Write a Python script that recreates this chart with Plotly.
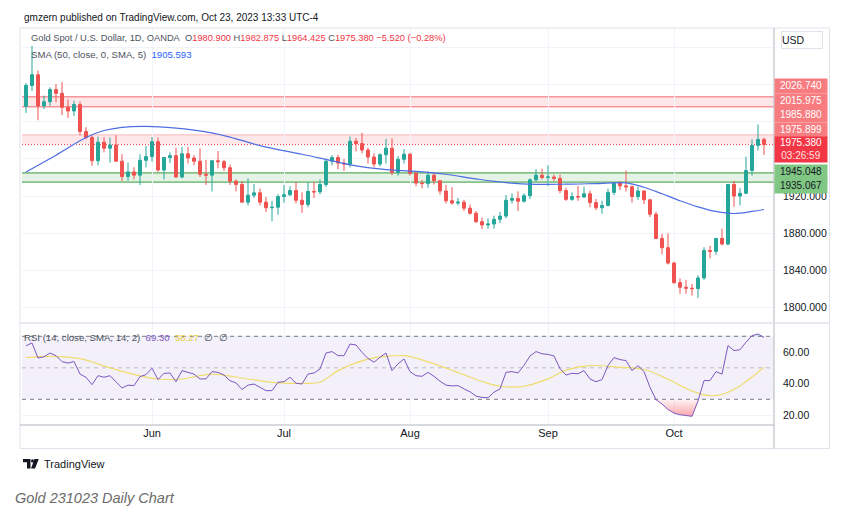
import plotly.graph_objects as go

# ---------------- data ----------------
opens = [2016.5, 2039.0, 2050.5, 2017.0, 2021.5, 2034.5, 2030.5, 2015.5, 2011.5, 2018.5,
         1989.5, 1983.0, 1958.0, 1978.0, 1971.5, 1975.0, 1957.5, 1941.0, 1946.0, 1942.5,
         1958.5, 1962.5, 1978.5, 1948.0, 1961.5, 1963.5, 1940.5, 1965.5, 1961.0, 1957.5,
         1943.5, 1942.5, 1958.0, 1957.0, 1950.5, 1936.0, 1932.5, 1913.5, 1921.0, 1923.5,
         1913.5, 1907.5, 1908.0, 1919.5, 1921.5, 1926.0, 1915.5, 1911.0, 1925.0, 1924.5,
         1932.5, 1957.5, 1961.5, 1955.5, 1954.5, 1979.0, 1976.5, 1969.5, 1962.0, 1954.5,
         1964.5, 1971.5, 1945.5, 1959.5, 1965.0, 1944.5, 1934.0, 1933.5, 1942.5, 1936.5,
         1925.5, 1915.0, 1912.5, 1913.5, 1907.0, 1901.5, 1892.5, 1889.0, 1890.0, 1895.0,
         1898.5, 1915.5, 1917.5, 1914.5, 1920.5, 1937.5, 1942.5, 1940.0, 1940.5, 1939.0,
         1926.0, 1916.5, 1919.5, 1919.0, 1922.5, 1913.0, 1907.5, 1910.0, 1924.0, 1934.0,
         1931.0, 1930.0, 1919.5, 1925.5, 1916.0, 1900.5, 1874.5, 1864.5, 1848.0, 1827.0,
         1822.0, 1821.0, 1820.5, 1832.0, 1861.5, 1860.5, 1874.5, 1868.5, 1932.5, 1920.0,
         1923.0, 1947.5, 1974.5, 1980.9]
highs = [2041.5, 2081.5, 2055.0, 2028.0, 2037.0, 2040.5, 2042.5, 2024.0, 2022.5, 2021.5,
         1994.0, 1985.0, 1984.0, 1983.5, 1983.0, 1985.5, 1965.0, 1956.0, 1951.0, 1965.0,
         1974.0, 1983.5, 1983.0, 1962.0, 1967.0, 1972.0, 1973.0, 1973.0, 1964.0, 1971.5,
         1959.0, 1958.5, 1968.5, 1959.0, 1954.0, 1938.0, 1936.0, 1939.0, 1933.0, 1928.0,
         1919.0, 1915.0, 1922.0, 1932.0, 1930.5, 1935.0, 1924.0, 1935.0, 1935.0, 1938.0,
         1959.5, 1964.0, 1964.5, 1960.0, 1984.0, 1982.5, 1988.0, 1972.0, 1966.0, 1966.0,
         1981.5, 1982.0, 1963.0, 1970.5, 1966.5, 1946.5, 1937.5, 1946.5, 1944.5, 1937.5,
         1932.0, 1929.5, 1918.0, 1916.0, 1911.0, 1904.0, 1897.0, 1896.0, 1899.0, 1903.0,
         1921.0, 1923.0, 1925.0, 1923.0, 1939.0, 1949.0, 1949.5, 1953.0, 1943.0, 1943.0,
         1929.0, 1924.0, 1931.0, 1930.0, 1926.0, 1917.0, 1915.0, 1928.0, 1935.0, 1936.0,
         1947.5, 1931.5, 1930.0, 1926.0, 1917.0, 1903.0, 1879.5, 1880.0, 1849.5, 1831.5,
         1830.0, 1825.5, 1835.0, 1865.0, 1866.5, 1875.0, 1885.0, 1933.0, 1936.5, 1928.5,
         1962.5, 1981.0, 1997.0, 1982.875]
lows = [2009.5, 2033.0, 2001.5, 2013.5, 2017.0, 2021.0, 2007.0, 2004.0, 2006.0, 1985.5,
        1981.0, 1952.5, 1953.0, 1967.0, 1956.0, 1957.0, 1936.0, 1936.5, 1938.0, 1932.0,
        1951.0, 1957.0, 1946.0, 1938.0, 1955.5, 1940.0, 1939.0, 1955.0, 1953.0, 1940.5,
        1932.0, 1925.0, 1950.0, 1947.0, 1932.0, 1925.0, 1913.0, 1910.0, 1918.0, 1910.0,
        1903.0, 1893.0, 1900.0, 1913.0, 1920.0, 1912.0, 1902.0, 1908.0, 1918.0, 1922.0,
        1930.0, 1953.0, 1949.0, 1947.0, 1951.0, 1968.0, 1966.0, 1955.0, 1951.0, 1952.0,
        1955.0, 1942.5, 1942.0, 1955.0, 1942.0, 1930.5, 1928.5, 1929.0, 1932.5, 1921.5,
        1912.0, 1911.0, 1910.0, 1904.0, 1900.0, 1891.0, 1884.5, 1885.0, 1885.0, 1891.0,
        1896.0, 1912.0, 1904.0, 1913.0, 1917.0, 1936.0, 1938.0, 1931.0, 1936.0, 1923.0,
        1915.0, 1915.0, 1915.0, 1918.0, 1908.0, 1905.0, 1901.0, 1909.0, 1921.0, 1926.5,
        1925.0, 1913.0, 1916.0, 1911.5, 1897.5, 1873.5, 1857.5, 1846.5, 1825.5, 1815.0,
        1815.0, 1813.0, 1810.5, 1830.0, 1853.0, 1857.0, 1867.0, 1867.0, 1908.5, 1910.0,
        1922.0, 1942.0, 1969.0, 1964.425]
closes = [2039.0, 2050.5, 2017.0, 2021.5, 2034.5, 2030.5, 2015.5, 2011.5, 2018.5, 1989.5,
          1983.0, 1958.0, 1978.0, 1971.5, 1975.0, 1957.5, 1941.0, 1946.0, 1942.5, 1958.5,
          1962.5, 1978.5, 1948.0, 1961.5, 1963.5, 1940.5, 1965.5, 1961.0, 1957.5, 1943.5,
          1942.5, 1958.0, 1957.0, 1950.5, 1936.0, 1932.5, 1913.5, 1921.0, 1923.5, 1913.5,
          1907.5, 1908.0, 1919.5, 1921.5, 1926.0, 1915.5, 1911.0, 1925.0, 1924.5, 1932.5,
          1957.5, 1961.5, 1955.5, 1954.5, 1979.0, 1976.5, 1969.5, 1962.0, 1954.5, 1964.5,
          1971.5, 1945.5, 1959.5, 1965.0, 1944.5, 1934.0, 1933.5, 1942.5, 1936.5, 1925.5,
          1915.0, 1912.5, 1913.5, 1907.0, 1901.5, 1892.5, 1889.0, 1890.0, 1895.0, 1898.5,
          1915.5, 1917.5, 1914.5, 1920.5, 1937.5, 1942.5, 1940.0, 1940.5, 1939.0, 1926.0,
          1916.5, 1919.5, 1919.0, 1922.5, 1913.0, 1907.5, 1910.0, 1924.0, 1934.0, 1931.0,
          1930.0, 1919.5, 1925.5, 1916.0, 1900.5, 1874.5, 1864.5, 1848.0, 1827.0, 1822.0,
          1821.0, 1820.5, 1832.0, 1861.5, 1860.5, 1874.5, 1868.5, 1932.5, 1920.0, 1923.0,
          1947.5, 1974.5, 1980.9, 1975.38]
candle_idx = list(range(len(closes)))

# SMA(50) read at sample candles
sma_idx = [0, 5, 10, 13, 16, 20, 25, 30, 34, 38, 42, 46, 50, 55, 60, 65, 70, 75, 80, 85,
           90, 95, 100, 103, 106, 109, 112, 115, 118, 121, 123]
sma_val = [1946, 1964, 1983, 1990.5, 1994, 1995, 1993, 1989, 1983.5, 1976, 1970, 1965,
           1959.5, 1952.5, 1948.5, 1946.5, 1943.5, 1938.5, 1934.5, 1932.7, 1932.8, 1933.5,
           1934.3, 1929.5, 1922.5, 1915, 1908.5, 1903.5, 1901.3, 1903.5, 1905.593]

# RSI(14) per candle
rsi = [64.0, 65.8, 56.2, 57.0, 59.4, 57.7, 53.9, 53.0, 54.0, 46.0,
       44.0, 39.3, 45.0, 44.0, 45.0, 41.2, 37.2, 39.0, 38.7, 44.4,
       45.7, 49.7, 42.5, 46.5, 46.7, 41.2, 48.2, 47.1, 46.0, 42.9,
       43.0, 47.6, 47.1, 45.4, 41.8, 40.4, 36.2, 39.0, 39.7, 37.6,
       35.5, 35.5, 40.8, 41.2, 44.0, 40.2, 39.7, 46.0, 46.7, 49.2,
       59.4, 60.3, 57.7, 57.7, 65.1, 64.5, 59.8, 56.0, 53.5, 56.7,
       59.4, 48.2, 52.5, 55.6, 47.6, 45.0, 44.6, 47.1, 44.6, 41.5,
       39.0, 38.5, 38.7, 36.6, 34.8, 32.0, 31.2, 31.0, 34.5, 36.6,
       47.1, 47.6, 46.7, 51.5, 57.5, 60.3, 58.9, 58.5, 57.5, 49.5,
       45.4, 46.5, 46.2, 48.2, 42.9, 41.2, 42.5, 51.4, 56.5, 55.2,
       54.6, 48.2, 51.4, 47.6, 37.6, 29.8, 27.0, 23.5, 21.2, 20.2,
       19.8, 19.2, 29.0, 41.9, 41.9, 47.6, 46.0, 64.1, 60.9, 61.5,
       66.2, 70.4, 71.5, 69.30]

# RSI-based SMA, read at sample candles
rsima_idx = [0, 4, 9, 14, 18, 22, 26, 31, 37, 42, 46, 49, 52, 57, 60, 63, 67, 72, 76, 79,
             83, 87, 90, 94, 99, 103, 107, 111, 114, 116, 119, 123]
rsima_val = [56.5, 57.3, 55.8, 50.0, 45.8, 42.9, 42.9, 46.0, 42.9, 40.4, 40.2, 40.8, 48.2,
             55.5, 57.2, 57.7, 53.8, 47.0, 41.3, 38.3, 38.3, 43.0, 48.5, 51.4, 50.3, 48.9,
             42.7, 35.2, 32.3, 33.2, 38.5, 50.3]
rsima_label = "58.27"

# horizontal zones
red_zone_hi = [2026.740, 1985.880]
red_zone_lo = [2015.975, 1975.899]
green_zone_hi = 1945.048
green_zone_lo = 1935.067
countdown = "03:26:59"

month_ticks = [21, 43, 64, 87, 108]
month_labels = ["Jun", "Jul", "Aug", "Sep", "Oct"]
price_ticks = [1800, 1840, 1880, 1920, 1960, 2000, 2040, 2080]
# labels at 1960/2000/2040 are covered by the price tags on the scale, 2080 is not shown
price_tick_text = ["1800.000", "1840.000", "1880.000", "1920.000", "", "", "", ""]
rsi_ticks = [20, 40, 60]
rsi_tick_text = ["20.00", "40.00", "60.00"]

# ---------------- layout helpers ----------------
W, H = 861, 518
ML, MR, MT, MB = 22, 87, 28, 93
PW = W - ML - MR
PH = H - MT - MB


def fx(px):
    return (px - ML) / PW


def fy(py):
    return (H - MB - py) / PH


GREEN = "#26a69a"
RED = "#ef5350"
TXT = "#131722"
GRID = "#f0f3fa"
BORDER = "#e0e3eb"
FONT = "Liberation Sans"

fig = go.Figure()

fig.add_trace(go.Candlestick(
    x=candle_idx, open=opens, high=highs, low=lows, close=closes,
    increasing=dict(line=dict(color=GREEN, width=1), fillcolor=GREEN),
    decreasing=dict(line=dict(color=RED, width=1), fillcolor=RED),
    whiskerwidth=0, xaxis="x", yaxis="y", showlegend=False, hoverinfo="skip"))

fig.add_trace(go.Scatter(x=sma_idx, y=sma_val, mode="lines",
                         line=dict(color="#4f6ee3", width=1.2, shape="spline", smoothing=1.0),
                         xaxis="x", yaxis="y", showlegend=False, hoverinfo="skip"))

# oversold / overbought fills
rsi_lo = [min(v, 30) for v in rsi]
rsi_hi = [max(v, 70) for v in rsi]
fig.add_trace(go.Scatter(x=candle_idx, y=[30] * len(rsi), mode="lines", line=dict(width=0),
                         xaxis="x2", yaxis="y2", showlegend=False, hoverinfo="skip"))
fig.add_trace(go.Scatter(x=candle_idx, y=rsi_lo, mode="lines", line=dict(width=0),
                         fill="tonexty",
                         fillgradient=dict(type="vertical",
                                           colorscale=[[0, "rgba(242,54,69,0.45)"], [1, "rgba(242,54,69,0.05)"]]),
                         xaxis="x2", yaxis="y2", showlegend=False, hoverinfo="skip"))
fig.add_trace(go.Scatter(x=candle_idx, y=[70] * len(rsi), mode="lines", line=dict(width=0),
                         xaxis="x2", yaxis="y2", showlegend=False, hoverinfo="skip"))
fig.add_trace(go.Scatter(x=candle_idx, y=rsi_hi, mode="lines", line=dict(width=0),
                         fill="tonexty", fillcolor="rgba(38,166,154,0.25)",
                         xaxis="x2", yaxis="y2", showlegend=False, hoverinfo="skip"))

fig.add_trace(go.Scatter(x=rsima_idx, y=rsima_val, mode="lines",
                         line=dict(color="#f0dc6e", width=1.2, shape="spline", smoothing=1.0),
                         xaxis="x2", yaxis="y2", showlegend=False, hoverinfo="skip"))
fig.add_trace(go.Scatter(x=candle_idx, y=rsi, mode="lines",
                         line=dict(color="#7e57c2", width=1),
                         xaxis="x2", yaxis="y2", showlegend=False, hoverinfo="skip"))

shapes = []
# price zones
for hi, lo in zip(red_zone_hi, red_zone_lo):
    shapes.append(dict(type="rect", xref="paper", yref="y", x0=0, x1=1, y0=lo, y1=hi,
                       fillcolor="rgba(242,54,69,0.12)", line=dict(width=0), layer="below"))
shapes.append(dict(type="line", xref="paper", yref="y", x0=0, x1=1, y0=red_zone_hi[0], y1=red_zone_hi[0],
                   line=dict(color="rgba(242,54,69,0.75)", width=1), layer="below"))
shapes.append(dict(type="line", xref="paper", yref="y", x0=0, x1=1, y0=red_zone_lo[0], y1=red_zone_lo[0],
                   line=dict(color="rgba(242,54,69,0.75)", width=1), layer="below"))
shapes.append(dict(type="line", xref="paper", yref="y", x0=0, x1=1, y0=red_zone_hi[1], y1=red_zone_hi[1],
                   line=dict(color="rgba(242,54,69,0.3)", width=1), layer="below"))
shapes.append(dict(type="rect", xref="paper", yref="y", x0=0, x1=1, y0=green_zone_lo, y1=green_zone_hi,
                   fillcolor="rgba(76,175,80,0.15)", line=dict(width=0), layer="below"))
for lv in (green_zone_hi, green_zone_lo):
    shapes.append(dict(type="line", xref="paper", yref="y", x0=0, x1=1, y0=lv, y1=lv,
                       line=dict(color="rgba(67,160,71,0.85)", width=1.3), layer="below"))
# current price dotted line
shapes.append(dict(type="line", xref="paper", yref="y", x0=0, x1=1, y0=closes[-1], y1=closes[-1],
                   line=dict(color="#f23645", width=1, dash="1px,2px"), layer="below"))

# RSI band and levels
shapes.append(dict(type="rect", xref="paper", yref="y2", x0=0, x1=1, y0=30, y1=70,
                   fillcolor="rgba(126,87,194,0.09)", line=dict(width=0), layer="below"))
for lv, col in ((70, "#787b86"), (50, "#b8bbc4"), (30, "#787b86")):
    shapes.append(dict(type="line", xref="paper", yref="y2", x0=0, x1=1, y0=lv, y1=lv,
                       line=dict(color=col, width=1, dash="4px,4px"), layer="below"))

# frame
frame = dict(color=BORDER, width=1)
shapes += [
    dict(type="rect", xref="paper", yref="paper", x0=fx(20), x1=fx(829.5), y0=fy(448.5), y1=fy(28),
         line=frame),
    dict(type="line", xref="paper", yref="paper", x0=fx(774), x1=fx(774), y0=fy(448.5), y1=fy(28),
         line=dict(color="#b2b5be", width=1)),
    dict(type="line", xref="paper", yref="paper", x0=fx(20), x1=fx(774), y0=fy(425), y1=fy(425),
         line=dict(color="#b2b5be", width=1)),
    dict(type="line", xref="paper", yref="paper", x0=fx(20), x1=fx(829.5), y0=fy(323), y1=fy(323),
         line=dict(color=BORDER, width=1.5)),
]
# TradingView logo
shapes += [
    dict(type="path", xref="paper", yref="paper", fillcolor="#131722", line=dict(width=0),
         path=f"M {fx(23)},{fy(459)} L {fx(30.5)},{fy(459)} L {fx(30.5)},{fy(468.5)} L {fx(27)},{fy(468.5)} "
              f"L {fx(27)},{fy(462.3)} L {fx(23)},{fy(462.3)} Z"),
    dict(type="circle", xref="paper", yref="paper", fillcolor="#131722", line=dict(width=0),
         x0=fx(31), x1=fx(34), y0=fy(462.5), y1=fy(459.3)),
    dict(type="path", xref="paper", yref="paper", fillcolor="#131722", line=dict(width=0),
         path=f"M {fx(34.5)},{fy(459)} L {fx(38.8)},{fy(459)} L {fx(35)},{fy(468.5)} L {fx(31)},{fy(468.5)} Z"),
]

annotations = []


def txt(x, y, text, size=10, color=TXT, xanchor="left", **kw):
    annotations.append(dict(xref="paper", yref="paper", x=fx(x), y=fy(y), text=text, showarrow=False,
                            xanchor=xanchor, yanchor="middle",
                            font=dict(family=kw.pop("family", FONT), size=size, color=color), **kw))


txt(22, 17, "gmzern published on TradingView.com, Oct 23, 2023 13:33 UTC-4", size=10)

LBL = "#4c525e"
VR = "#f23645"
chg = closes[-1] - closes[-2]
pct = chg / closes[-2] * 100
ohlc = (f"<span style='color:{LBL}'>O</span><span style='color:{VR}'>{opens[-1]:.3f}</span>\u00a0"
        f"<span style='color:{LBL}'>H</span><span style='color:{VR}'>{highs[-1]:.3f}</span>\u00a0"
        f"<span style='color:{LBL}'>L</span><span style='color:{VR}'>{lows[-1]:.3f}</span>\u00a0"
        f"<span style='color:{LBL}'>C</span><span style='color:{VR}'>{closes[-1]:.3f}</span>\u00a0"
        f"<span style='color:{VR}'>{chg:.3f} ({pct:.2f}%)</span>").replace("-", "\u2212")
txt(29, 38, "Gold Spot / U.S. Dollar, 1D, OANDA\u00a0\u00a0" + ohlc, size=9.3, color=LBL)
txt(29, 54, f"SMA (50, close, 0, SMA, 5)\u00a0\u00a0<span style='color:#2962ff'>{sma_val[-1]:.3f}</span>",
    size=9.6, color=LBL)
txt(22, 337, f"RSI (14, close, SMA, 14, 2)\u00a0\u00a0<span style='color:#7e57c2'>{rsi[-1]:.2f}</span>\u00a0\u00a0"
             f"<span style='color:#e8cf3a'>{rsima_label}</span>\u00a0\u00a0\u2205\u00a0\u00a0\u2205",
    size=9.6, color=LBL, bgcolor="rgba(255,255,255,0)")

# USD button
annotations.append(dict(xref="paper", yref="paper", x=fx(802), y=fy(40), text="USD", showarrow=False,
                        xanchor="center", yanchor="middle", width=40, height=16, align="left",
                        bordercolor=BORDER, borderwidth=1, borderpad=0, bgcolor="white",
                        font=dict(family=FONT, size=10.5, color=TXT)))

# price labels on the scale
label_values = [red_zone_hi[0], red_zone_lo[0], red_zone_hi[1], red_zone_lo[1]]
label_rows = [86, 100.5, 115, 129.5]
for v, row in zip(label_values, label_rows):
    annotations.append(dict(xref="paper", yref="paper", x=fx(801), y=fy(row), text=f"{v:.3f}",
                            showarrow=False, xanchor="center", yanchor="middle", width=52, height=13.5,
                            borderpad=0, bgcolor="#f77c80", font=dict(family=FONT, size=10, color="white")))
annotations.append(dict(xref="paper", yref="paper", x=fx(801), y=fy(149.5),
                        text=f"{closes[-1]:.3f}<br><span style='color:#ffe0e0'>{countdown}</span>",
                        showarrow=False, xanchor="center", yanchor="middle", width=52, height=24.5,
                        borderpad=0, bgcolor="#f23645", font=dict(family=FONT, size=10, color="white")))
for v, row in zip([green_zone_hi, green_zone_lo], [172, 186.5]):
    annotations.append(dict(xref="paper", yref="paper", x=fx(801), y=fy(row), text=f"{v:.3f}",
                            showarrow=False, xanchor="center", yanchor="middle", width=52, height=13.5,
                            borderpad=0, bgcolor="#81c784", font=dict(family=FONT, size=10, color=TXT)))

# footer
txt(42, 464, "TradingView", size=11)
annotations.append(dict(xref="paper", yref="paper", x=fx(13), y=fy(498), text="<i>Gold 231023 Daily Chart</i>",
                        showarrow=False, xanchor="left", yanchor="middle",
                        font=dict(family=FONT, size=14.5, color="#6b6b6b")))

x_range = [-0.667, 124.667]
main_dom = [fy(322), 1.0]
rsi_dom = [0.0, fy(324)]
main_range = [1800 - (322 - 307.7) / 0.93, 1800 + (307.7 - 28) / 0.93]
rsi_range = [30 - (425 - 399.3) / 1.575, 70 + (336.3 - 324) / 1.575]

fig.update_layout(
    width=W, height=H, margin=dict(l=ML, r=MR, t=MT, b=MB),
    paper_bgcolor="white", plot_bgcolor="white",
    showlegend=False, hovermode=False,
    font=dict(family=FONT, color=TXT),
    xaxis=dict(domain=[0, 1], anchor="y", range=x_range, tickvals=month_ticks, showticklabels=False,
               showgrid=True, gridcolor=GRID, zeroline=False, rangeslider=dict(visible=False),
               showline=False, ticks=""),
    xaxis2=dict(domain=[0, 1], anchor="y2", matches="x", range=x_range, tickvals=month_ticks,
                ticktext=month_labels, showgrid=True, gridcolor=GRID, zeroline=False, ticks="",
                tickfont=dict(family=FONT, size=11, color=TXT), showline=False),
    yaxis=dict(domain=main_dom, anchor="x", side="right", range=main_range, tickvals=price_ticks,
               ticktext=price_tick_text, showgrid=True, gridcolor=GRID, zeroline=False, ticks="",
               ticklabelstandoff=8, tickfont=dict(family=FONT, size=10.5, color=TXT), showline=False),
    yaxis2=dict(domain=rsi_dom, anchor="x2", side="right", range=rsi_range, tickvals=rsi_ticks,
                ticktext=rsi_tick_text, showgrid=True, gridcolor=GRID, zeroline=False, ticks="",
                ticklabelstandoff=8, tickfont=dict(family=FONT, size=10.5, color=TXT), showline=False),
    shapes=shapes, annotations=annotations,
)

fig.write_html("out.html", config={"displayModeBar": False},
               post_script="document.body.style.margin='0px';document.body.style.overflow='hidden';")
